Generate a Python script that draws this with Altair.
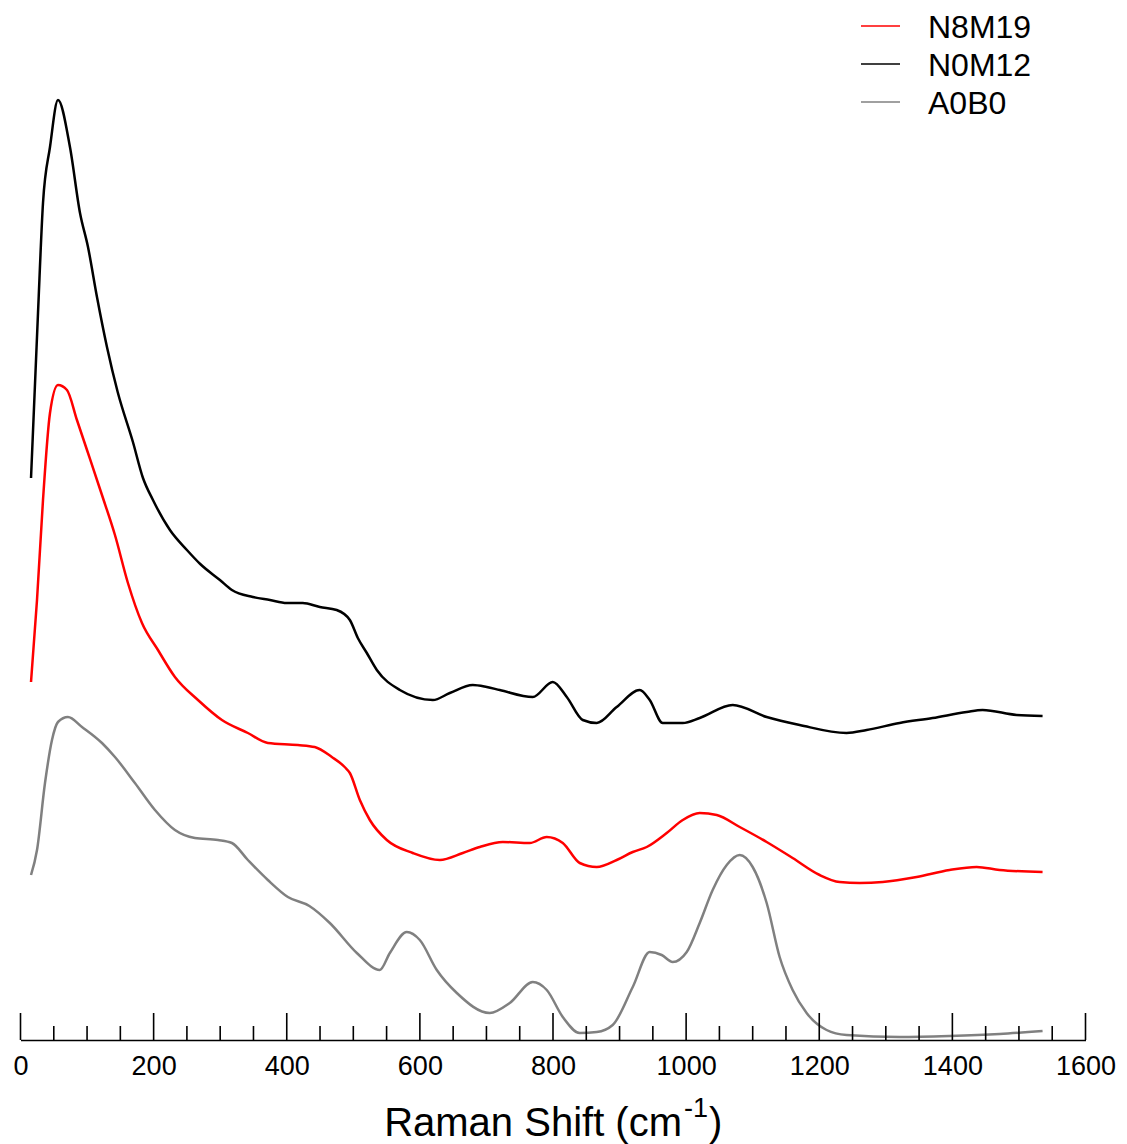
import altair as alt
import pandas as pd

# ---- data (Raman shift in cm-1, intensity in arbitrary units) ----
names = ["N8M19", "N0M12", "A0B0"]
colors = ["#ff0000", "#000000", "#808080"]
widths = [2.5, 2.5, 1.9]

x_n0m12 = [15.8, 26.3, 33.8, 44.3, 56.3, 74.3, 89.4, 101.4, 114.9, 129.9, 146, 168.9, 184, 199,
           224.5, 250, 270, 299.6, 317.6, 349, 374.7, 400, 424, 449.7, 475, 494.8, 506.8, 520.3,
           535.3, 569.9, 619.5, 645, 679.5, 700.5, 720, 769.6, 799.6, 820.7, 844.7, 865.7, 895.7, 930.3,
           945.3, 964.8, 994.9, 1020.4, 1070, 1121, 1170.6, 1241, 1271.2, 1320.8, 1370.3, 1421.4, 1445.4,
           1496.4, 1535.5]
y_n0m12 = [562, 727, 837, 893, 940, 893, 827, 793, 743, 693, 648, 598, 562, 540,
           510, 490, 476, 460, 450, 443, 440, 437, 437, 433, 430, 420, 402, 387,
           370, 350, 340, 347, 355, 353, 350, 343, 358, 343, 320, 317, 333, 350,
           340, 317, 317, 322, 335, 323, 315, 307, 310, 317, 322, 328, 330,
           325, 324]

x_n8m19 = [15.8, 24.8, 33.8, 44.3, 56.3, 69.8, 84.8, 99.9, 122.4, 141.9, 161.4, 182.5, 206.5, 232, 266.6,
           302.6, 341.6, 371.6, 416.7, 442, 467.7, 487, 494.8, 509.8, 524.8, 550.3, 589.4, 630, 664.5, 690,
           724.6, 765, 790.6, 814.7, 840.2, 865.7, 895.7, 919.8, 940.8, 970.8, 994.9, 1020.4, 1046,
           1080.5, 1121, 1160, 1200.6, 1230.7, 1260.7, 1295.3, 1346.3, 1395.8, 1436.4, 1470.9, 1535.5]
y_n8m19 = [358, 440, 540, 627, 655, 650, 620, 590, 545, 505, 457, 417, 390, 363, 340,
           320, 307, 297, 295, 293, 283, 273, 267, 240, 220, 200, 187, 180, 187, 193,
           198, 197, 203, 197, 177, 173, 180, 188, 193, 207, 220, 227, 225,
           213, 198, 182, 165, 158, 157, 158, 163, 170, 173, 170, 168]

x_a0b0 = [15.8, 24.8, 36.8, 47.3, 56.3, 71.3, 92.4, 122.4, 141.9, 171.9, 202, 232, 262, 296.6, 317.6,
          341.6, 371.6, 401.7, 434, 464.7, 505.3, 539.8, 554.9, 580.4, 599.9, 625.4, 655.5, 705, 735,
          769.6, 790.6, 814.7, 840.2, 865.7, 889.7, 919.8, 945.3, 963.3, 979.8, 1000.9, 1020.4, 1039.9,
          1061, 1080.5, 1100, 1121, 1140.5, 1160, 1181, 1211, 1241, 1320.8, 1395.8, 1470.9, 1535.5]
y_a0b0 = [165, 190, 257, 300, 318, 323, 313, 297, 283, 257, 230, 210, 202, 200, 197,
          180, 160, 143, 134, 117, 87, 70, 87, 108, 100, 70, 47, 27, 37,
          58, 50, 23, 7, 8, 15, 53, 88, 85, 78, 88, 117, 150,
          175, 185, 173, 137, 83, 50, 27, 10, 5, 3, 4, 6, 9]

major_ticks = [0, 200, 400, 600, 800, 1000, 1200, 1400, 1600]
minor_ticks = [v for v in range(50, 1600, 50) if v % 200 != 0]

title_main = "Raman Shift (cm"
title_sup = "-1"
title_end = ")"

# ---- build table ----
rows = []
for name, xs, ys in [("N8M19", x_n8m19, y_n8m19), ("N0M12", x_n0m12, y_n0m12), ("A0B0", x_a0b0, y_a0b0)]:
    for i, (xv, yv) in enumerate(zip(xs, ys)):
        rows.append({"sample": name, "shift": xv, "intensity": yv, "order": i})
df = pd.DataFrame(rows)

W, H = 1065, 1032
FONT = "Liberation Sans"
xscale = alt.Scale(domain=[0, 1600], nice=False, zero=False)
yscale = alt.Scale(domain=[0, 1032], nice=False, zero=False)
xaxis = alt.Axis(values=major_ticks, format="d", title=None, grid=False, ticks=False,
                 labelFontSize=27, labelFont=FONT, labelColor="black",
                 labelPadding=13, domainColor="black", domainWidth=1.6,
                 labelFlush=False, labelOverlap=False)

lines = alt.Chart(df).mark_line(interpolate="monotone").encode(
    x=alt.X("shift:Q", scale=xscale, axis=xaxis),
    y=alt.Y("intensity:Q", scale=yscale, axis=None),
    color=alt.Color("sample:N", scale=alt.Scale(domain=names, range=colors), legend=None),
    strokeWidth=alt.StrokeWidth("sample:N", scale=alt.Scale(domain=names, range=widths), legend=None),
    order="order:Q",
)

major = alt.Chart(pd.DataFrame({"shift": major_ticks})).mark_rule(color="black", strokeWidth=1.6).encode(
    x=alt.X("shift:Q", scale=xscale, axis=xaxis),
    y=alt.value(H - 27), y2=alt.value(H),
)
minor = alt.Chart(pd.DataFrame({"shift": minor_ticks})).mark_rule(color="black", strokeWidth=1.6).encode(
    x=alt.X("shift:Q", scale=xscale, axis=xaxis),
    y=alt.value(H - 14), y2=alt.value(H),
)

# ---- legend ----
legend_layers = []
for i, (name, col) in enumerate(zip(names, colors)):
    ly = 18 + 38 * i
    d = pd.DataFrame({"label": [name]})
    legend_layers.append(
        alt.Chart(d).mark_rule(color=col, strokeWidth=1.6).encode(
            x=alt.value(840.5), x2=alt.value(879.5), y=alt.value(ly))
    )
    legend_layers.append(
        alt.Chart(d).mark_text(align="left", baseline="alphabetic", fontSize=32, font=FONT,
                               color="black").encode(
            text="label:N", x=alt.value(907.5), y=alt.value(ly + 12))
    )

# ---- axis title with superscript ----
X0 = 661.5
t1 = alt.Chart(pd.DataFrame({"t": [title_main]})).mark_text(
    align="right", baseline="alphabetic", fontSize=40, font=FONT, color="black").encode(
    text="t:N", x=alt.value(X0), y=alt.value(1128))
t2 = alt.Chart(pd.DataFrame({"t": [title_sup]})).mark_text(
    align="left", baseline="alphabetic", fontSize=27, font=FONT, color="black").encode(
    text="t:N", x=alt.value(X0 + 2), y=alt.value(1109))
t3 = alt.Chart(pd.DataFrame({"t": [title_end]})).mark_text(
    align="left", baseline="alphabetic", fontSize=40, font=FONT, color="black").encode(
    text="t:N", x=alt.value(X0 + 27), y=alt.value(1128))

chart = alt.layer(lines, major, minor, *legend_layers, t1, t2, t3).properties(
    width=W, height=H,
    padding={"left": 12.5, "top": 0, "right": 32, "bottom": 104},
    autosize=alt.AutoSizeParams(type="none"),
).configure(font=FONT).configure_view(stroke=None)

chart.save("out.html", embed_options={"renderer": "svg", "actions": False})
